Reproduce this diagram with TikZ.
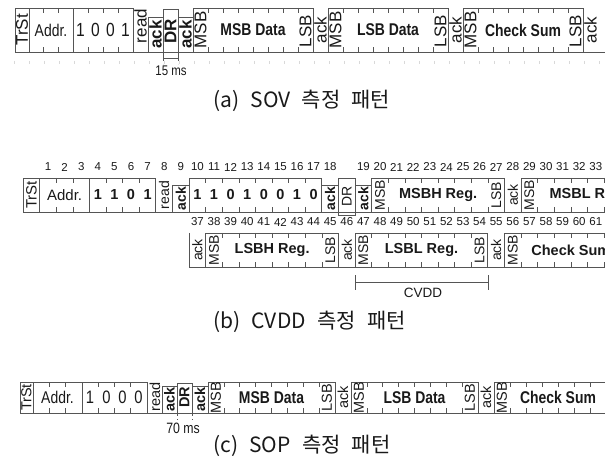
\documentclass[tikz,border=0pt]{standalone}
\usepackage{fontspec}
\setmainfont{Liberation Sans}
\newfontfamily\narrowfont[FakeStretch=0.82]{Liberation Sans}
\newfontfamily\korfont[WordSpace=2.4]{Noto Sans CJK KR}
\usetikzlibrary{calc}
\definecolor{lineg}{RGB}{85,85,85}

% short ticks at the bit borders of a field: x0, bit width, count, top, bottom
\newcommand{\bitticks}[5]{\foreach \k in {1,...,#3}{\draw[tck] ({#1+\k*#2},#4) -- ++(0,5) ({#1+\k*#2},#5) -- ++(0,-5);}}

\begin{document}
\begin{tikzpicture}[x=1pt,y=-1pt,
  frame/.style={draw=lineg,line width=0.9pt},
  tck/.style={draw=lineg,line width=0.7pt},
  txt/.style={inner sep=0pt,text=black!90},
  ra/.style={txt,rotate=90,font=\fontsize{17}{17}\selectfont},
  rab/.style={txt,rotate=90,font=\bfseries\fontsize{17}{17}\selectfont},
  na/.style={txt,font=\narrowfont\fontsize{17}{17}\selectfont},
  nab/.style={txt,font=\narrowfont\bfseries\fontsize{17}{17}\selectfont},
  da/.style={txt,font=\narrowfont\fontsize{19}{19}\selectfont},
  rb/.style={txt,rotate=90,font=\fontsize{14}{14}\selectfont},
  rbb/.style={txt,rotate=90,font=\bfseries\fontsize{14}{14}\selectfont},
  tb/.style={txt,font=\fontsize{15}{15}\selectfont},
  tbb/.style={txt,font=\bfseries\fontsize{14.5}{15}\selectfont},
  num/.style={txt,font=\fontsize{11.5}{12}\selectfont},
  rc/.style={txt,rotate=90,font=\fontsize{14.5}{15}\selectfont},
  rcb/.style={txt,rotate=90,font=\bfseries\fontsize{14.5}{15}\selectfont},
  dc/.style={txt,font=\narrowfont\fontsize{18}{18}\selectfont},
  captxt/.style={txt,anchor=west,font=\korfont\fontsize{21}{21}\selectfont}]
\useasboundingbox (0,0) rectangle (605,465);
\clip (0,0) rectangle (605,465);

% (a) SOV
\foreach \k in {0,...,39} \draw[black!15] ({14+15*\k},61) -- ++(0,3);
\draw[frame] (15,52) -- (605,52);
\draw[frame] (15,8) rectangle (29,52); \node[ra] (a-trst) at (22,30) {TrSt};
\draw[frame] (29,8) rectangle (73,52); \bitticks{29}{14.67}{2}{8}{52}
\node[na] (a-addr) at (51,30) {Addr.};
\draw[frame] (73,8) rectangle (133,52); \bitticks{73}{15}{3}{8}{52}
\node[da] (a-b1) at (80.5,30) {1}; \node[da] (a-b2) at (95.5,30) {0};
\node[da] (a-b3) at (110.5,30) {0}; \node[da] (a-b4) at (125.5,30) {1};
\node[ra] (a-read) at (140.5,26) {read};
\draw[frame] (148,17) rectangle (163,52); \node[rab] (a-ack1) at (155.5,34.5) {ack};
\draw[frame] (163,9) rectangle (178,58); \node[rab] (a-dr) at (170.5,31) {DR};
\draw[frame] (178,17) rectangle (193,52); \node[rab] (a-ack2) at (185.5,34.5) {ack};
\draw[lineg,dashed] (163,58) -- (163,64) (178,58) -- (178,64);
\node[txt,font=\narrowfont\fontsize{14}{14}\selectfont] (a-time) at (171,71) {15 ms};
\draw[frame] (193,8) rectangle (313,52); \bitticks{193}{15}{7}{8}{52}
\node[ra] (a-msb1) at (200.5,30) {MSB}; \node[ra] (a-lsb1) at (305.5,31) {LSB};
\node[nab] (a-msbd) at (253,30) {MSB Data};
\node[ra] (a-ack3) at (320.5,30) {ack};
\draw[frame] (328,8) rectangle (448,52); \bitticks{328}{15}{7}{8}{52}
\node[ra] (a-msb2) at (335.5,30) {MSB}; \node[ra] (a-lsb2) at (440.5,31) {LSB};
\node[nab] (a-lsbd) at (388,30) {LSB Data};
\node[ra] (a-ack4) at (455.5,30) {ack};
\draw[frame] (463,8) rectangle (583,52); \bitticks{463}{15}{7}{8}{52}
\node[ra] (a-msb3) at (470.5,30) {MSB}; \node[ra] (a-lsb3) at (575.5,31) {LSB};
\node[nab] (a-cs) at (523,30) {Check Sum};
\node[ra] (a-ack5) at (590.5,30) {ack};
\node[captxt] (cap-a) at (213,101) {(a) SOV 측정 패턴};

% (b) CVDD, first line
\foreach \n in {1,...,18} \node[num] (b-n\n) at ({31.4+16.6*\n},167) {\n};
\foreach \n in {19,...,33} \node[num] (b-n\n) at ({31.4+16.6*(\n+1)},167) {\n};
\draw[frame] (23.1,212) -- (605,212);
\draw[frame] (23.1,178) rectangle (39.7,212);
\node[rb,font=\fontsize{15}{15}\selectfont] (b-trst) at (31.4,195) {TrSt};
\draw[frame] (39.7,178) rectangle (89.5,212); \bitticks{39.7}{16.6}{2}{178}{212}
\node[tb] (b-addr) at (64.6,195) {Addr.};
\draw[frame] (89.5,178) rectangle (155.9,212); \bitticks{89.5}{16.6}{3}{178}{212}
\foreach \b [count=\i from 0] in {1,1,0,1}
  \node[tbb] (b-a\i) at ({97.8+16.6*\i},195) {\b};
\node[rb] (b-read) at (164.2,195) {read};
\draw[frame] (172.5,185) rectangle (189.1,212); \node[rbb] (b-ack1) at (180.8,198.5) {ack};
\draw[frame] (189.1,178) rectangle (321.9,212); \bitticks{189.1}{16.6}{7}{178}{212}
\foreach \b [count=\i from 0] in {1,1,0,1,0,0,1,0}
  \node[tbb] (b-c\i) at ({197.4+16.6*\i},195) {\b};
\draw[frame] (321.9,185) rectangle (338.5,212); \node[rbb] (b-ack2) at (330.2,198.5) {ack};
\draw[frame] (338.5,178) rectangle (355.1,215); \node[rb] (b-dr) at (346.8,196) {DR};
\draw[frame] (355.1,185) rectangle (371.7,212); \node[rbb] (b-ack3) at (363.4,198.5) {ack};
\draw[frame] (371.7,178) rectangle (504.5,212); \bitticks{371.7}{16.6}{7}{178}{212}
\node[rb] (b-msb1) at (380,195) {MSB}; \node[rb] (b-lsb1) at (496.2,195) {LSB};
\node[tbb] (b-msbh) at (438.1,195) {MSBH Reg.};
\node[rb] (b-ack4) at (512.8,195) {ack};
\draw[frame] (521.1,178) rectangle (653.9,212); \bitticks{521.1}{16.6}{7}{178}{212}
\node[rb] (b-msb2) at (529.4,195) {MSB};
\node[tbb] (b-msbl) at (587.8,195) {MSBL Reg.};

% (b) second line
\foreach \n in {37,...,61} \node[num] (b-n\n) at ({31.4+16.6*(\n-27)},222) {\n};
\draw[frame] (189.1,233) -- (189.1,267) -- (605,267);
\node[rb] (b-ack5) at (197.4,250) {ack};
\draw[frame] (205.7,233) rectangle (338.5,267); \bitticks{205.7}{16.6}{7}{233}{267}
\node[rb] (b-msb3) at (214,250) {MSB}; \node[rb] (b-lsb3) at (330.2,250) {LSB};
\node[tbb] (b-lsbh) at (272.1,250) {LSBH Reg.};
\node[rb] (b-ack6) at (346.8,250) {ack};
\draw[frame] (355.1,233) rectangle (487.9,267); \bitticks{355.1}{16.6}{7}{233}{267}
\node[rb] (b-msb4) at (363.4,250) {MSB}; \node[rb] (b-lsb4) at (479.6,250) {LSB};
\node[tbb] (b-lsbl) at (421.5,250) {LSBL Reg.};
\node[rb] (b-ack7) at (496.2,250) {ack};
\draw[frame] (504.5,233) rectangle (637.3,267); \bitticks{504.5}{16.6}{7}{233}{267}
\node[rb] (b-msb5) at (512.8,250) {MSB};
\node[tbb] (b-cs) at (570.9,250) {Check Sum};
\coordinate (cv-l) at (355.1,282); \coordinate (cv-r) at (487.9,282);
\draw[lineg,line width=0.8pt] (cv-l) -- (cv-r) ($(cv-l)+(0,-7)$) -- ++(0,15) ($(cv-r)+(0,-7)$) -- ++(0,15);
\node[txt,font=\fontsize{13.5}{14}\selectfont] (b-cvdd) at (423,293) {CVDD};
\node[captxt] (cap-b) at (213,322) {(b) CVDD 측정 패턴};

% (c) SOP
\draw[frame] (20,413) -- (605,413);
\draw[frame] (20,382) rectangle (33,413); \node[rc] (c-trst) at (26.5,397.5) {TrSt};
\draw[frame] (33,382) rectangle (82,413); \bitticks{33}{16.33}{2}{382}{413}
\node[na] (c-addr) at (57.5,397.5) {Addr.};
\draw[frame] (82,382) rectangle (147,413); \bitticks{82}{16.25}{3}{382}{413}
\node[dc] (c-b1) at (90,397.5) {1}; \node[dc] (c-b2) at (106.5,397.5) {0};
\node[dc] (c-b3) at (122.5,397.5) {0}; \node[dc] (c-b4) at (138.5,397.5) {0};
\node[rc] (c-read) at (155,397) {read};
\draw[frame] (162,386) rectangle (177,413); \node[rcb] (c-ack1) at (169.5,399.5) {ack};
\draw[frame] (177,383) rectangle (192,413); \node[rcb] (c-dr) at (184.5,397.5) {DR};
\draw[frame] (192,386) rectangle (208,413); \node[rcb] (c-ack2) at (200,399.5) {ack};
\draw[lineg,dashed] (177,413) -- (177,420) (192,413) -- (192,420);
\node[txt,font=\narrowfont\fontsize{15}{15}\selectfont] (c-time) at (183,428) {70 ms};
\draw[frame] (208,382) rectangle (335,413); \bitticks{208}{15.875}{7}{382}{413}
\node[rc] (c-msb1) at (216,397.5) {MSB}; \node[rc] (c-lsb1) at (327,397.5) {LSB};
\node[nab] (c-msbd) at (271.5,397.5) {MSB Data};
\node[rc] (c-ack3) at (343,397.5) {ack};
\draw[frame] (351,382) rectangle (478,413); \bitticks{351}{15.875}{7}{382}{413}
\node[rc] (c-msb2) at (359,397.5) {MSB}; \node[rc] (c-lsb2) at (470,397.5) {LSB};
\node[nab] (c-lsbd) at (414.5,397.5) {LSB Data};
\node[rc] (c-ack4) at (486,397.5) {ack};
\draw[frame] (494,382) rectangle (622,413); \bitticks{494}{16}{7}{382}{413}
\node[rc] (c-msb3) at (502,397.5) {MSB};
\node[nab] (c-cs) at (558,397.5) {Check Sum};
\node[captxt] (cap-c) at (213,446) {(c) SOP 측정 패턴};
\end{tikzpicture}
\end{document}
